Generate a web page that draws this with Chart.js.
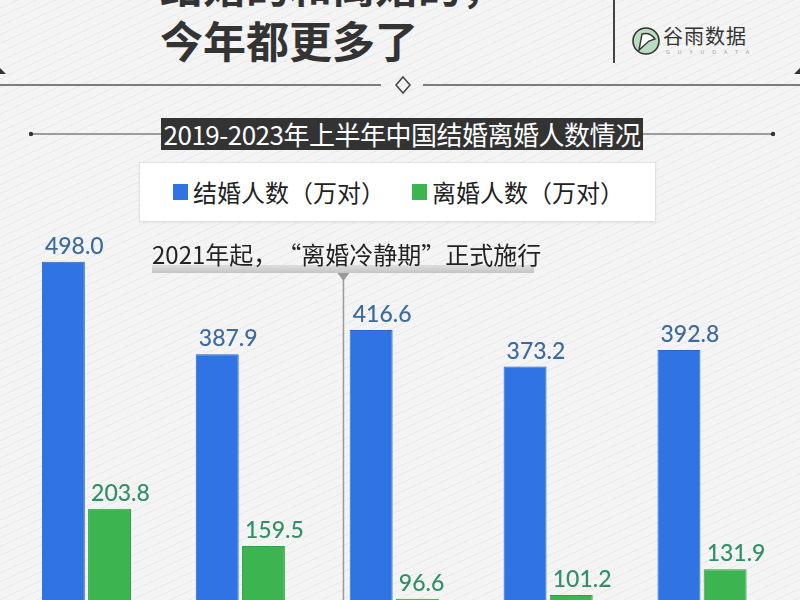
<!DOCTYPE html>
<html>
<head>
<meta charset="utf-8">
<script src="https://cdn.jsdelivr.net/npm/chart.js@4"></script>
<style>
  html, body { margin: 0; padding: 0; width: 800px; height: 600px; overflow: hidden; }
  body {
    position: relative;
    font-family: "Noto Sans CJK SC", sans-serif;
    background: #f3f3f3 repeating-linear-gradient(155deg, #f4f4f4 0 7px, #eaeaea 7px 8px);
  }
  .abs { position: absolute; }
  .head { font-weight: 700; font-size: 43px; line-height: 46px; color: #333; left: 160px; white-space: nowrap; }
  #divider { left: 613px; top: 0; width: 2px; height: 63px; background: #444; }
  #logoText { left: 663px; top: 24px; font-size: 20px; line-height: 24px; color: #333; font-weight: 400; letter-spacing: 1px; }
  #logoSub { left: 666px; top: 49px; font-size: 5px; color: #999; letter-spacing: 8px; font-family: "DejaVu Sans"; }
  #titleBar {
    left: 161px; top: 118px; width: 482px; height: 32px; background: #333; color: #fff;
    font-size: 26px; line-height: 32px; text-align: center; white-space: nowrap; letter-spacing: -0.5px;
  }
  #legendBox {
    left: 139px; top: 162px; width: 517px; height: 60px; background: #fff;
    border: 1px solid #e2e2e2; box-sizing: border-box; box-shadow: 0 1px 2px rgba(0,0,0,0.06);
  }
  .legItem { position: absolute; top: 13px; font-size: 24px; line-height: 32px; color: #222; white-space: nowrap; }
  .legSwatch { position: absolute; width: 15px; height: 16px; top: 8px; left: -20px; }
  #chartCanvas { position: absolute; left: 0; top: 0; }
</style>
</head>
<body>
<div class="abs head" style="top:-39px">结婚的和离婚的，</div>
<div class="abs head" style="top:16px">今年都更多了</div>

<div class="abs" id="divider"></div>
<svg class="abs" style="left:630px;top:25px" width="32" height="32" viewBox="0 0 32 32">
  <circle cx="16" cy="16" r="13" fill="#b9dcc3" stroke="#333" stroke-width="1.6"/>
  <path d="M9 25 L12 9 Q20 7 25 14 L19 16 Z" fill="#fff" stroke="#333" stroke-width="1.4"/>
</svg>
<div class="abs" id="logoText">谷雨数据</div>
<div class="abs" id="logoSub">GUYUDATA</div>

<svg class="abs" style="left:0;top:60px" width="800" height="40">
  <polygon points="0,8 6,14 0,14" fill="#333"/>
  <polygon points="800,8 794,14 800,14" fill="#333"/>
  <line x1="0" y1="25" x2="381" y2="25" stroke="#555" stroke-width="1.5"/>
  <line x1="423" y1="25" x2="800" y2="25" stroke="#555" stroke-width="1.5"/>
  <polygon points="403,17 410,25 403,33 396,25" fill="none" stroke="#444" stroke-width="1.5"/>
</svg>

<svg class="abs" style="left:0;top:128px" width="800" height="12">
  <line x1="31" y1="6" x2="773" y2="6" stroke="#444" stroke-width="1"/>
  <circle cx="31" cy="6" r="2.2" fill="#333"/>
  <circle cx="773" cy="6" r="2.2" fill="#333"/>
</svg>
<div class="abs" id="titleBar">2019-2023年上半年中国结婚离婚人数情况</div>

<div class="abs" id="legendBox"></div>

<canvas id="chartCanvas" width="800" height="680"></canvas>

<script>
const years = ["2019", "2020", "2021", "2022", "2023"];
const seriesNames = ["结婚人数（万对）", "离婚人数（万对）"];
const marriages = [498.0, 387.9, 416.6, 373.2, 392.8];
const divorces = [203.8, 159.5, 96.6, 101.2, 131.9];
const barColors = ["#2f74e2", "#3cb550"];
const labelColors = ["#3b6a9f", "#2f8f66"];
const noteText = "2021年起，“离婚冷静期”正式施行";

// legend in the white box
function buildLegend() {
  const box = document.getElementById("legendBox");
  const lefts = [53, 292];
  seriesNames.forEach((name, i) => {
    const item = document.createElement("div");
    item.className = "legItem";
    item.style.left = lefts[i] + "px";
    item.textContent = name;
    const sw = document.createElement("span");
    sw.className = "legSwatch";
    sw.style.background = barColors[i];
    item.appendChild(sw);
    box.appendChild(item);
  });
}

const valueLabels = {
  id: "valueLabels",
  afterDatasetsDraw(chart) {
    const ctx = chart.ctx;
    ctx.save();
    ctx.font = "500 23px Lato";
    ctx.textAlign = "left";
    ctx.textBaseline = "alphabetic";
    chart.data.datasets.forEach((ds, di) => {
      const meta = chart.getDatasetMeta(di);
      ctx.fillStyle = labelColors[di];
      meta.data.forEach((bar, i) => {
        ctx.fillText(ds.data[i].toFixed(1), bar.x - bar.width / 2 + 3, bar.y - 8);
      });
    });
    ctx.restore();
  }
};

const noteLine = {
  id: "noteLine",
  afterDraw(chart) {
    const ctx = chart.ctx;
    const x = chart.scales.x.getPixelForValue(1.67);
    ctx.save();
    // grey band under the note
    const grad = ctx.createLinearGradient(0, 265, 0, 273);
    grad.addColorStop(0, "#dedede");
    grad.addColorStop(1, "#c4c4c4");
    ctx.fillStyle = grad;
    ctx.fillRect(152, 265, 382, 8);
    ctx.fillStyle = "#222";
    ctx.font = "24px 'Noto Sans CJK SC'";
    ctx.textBaseline = "alphabetic";
    ctx.fillText(noteText, 152, 264);
    // pointer + vertical line
    ctx.fillStyle = "#9a9a9a";
    ctx.beginPath();
    ctx.moveTo(x - 6, 273);
    ctx.lineTo(x + 6, 273);
    ctx.lineTo(x, 281);
    ctx.closePath();
    ctx.fill();
    ctx.strokeStyle = "#9a9a9a";
    ctx.lineWidth = 1.5;
    ctx.beginPath();
    ctx.moveTo(x, 280);
    ctx.lineTo(x, chart.chartArea.bottom);
    ctx.stroke();
    ctx.restore();
  }
};

function displayChart() {
  new Chart("chartCanvas", {
    type: "bar",
    data: {
      labels: years,
      datasets: [
        { label: seriesNames[0], data: marriages, backgroundColor: barColors[0], borderColor: "#2a66c8", borderWidth: 1 },
        { label: seriesNames[1], data: divorces, backgroundColor: barColors[1], borderColor: "#33a046", borderWidth: 1 },
      ],
    },
    options: {
      responsive: false,
      animation: false,
      layout: { padding: { left: 9.5, right: 21, top: 176, bottom: 0 } },
      datasets: { bar: { categoryPercentage: 0.6, barPercentage: 0.93 } },
      plugins: { legend: { display: false }, tooltip: { enabled: false } },
      scales: {
        x: { display: false },
        y: { display: false, min: 0, max: 600 },
      },
    },
    plugins: [valueLabels, noteLine],
  });
}

buildLegend();
displayChart();
</script>
</body>
</html>
